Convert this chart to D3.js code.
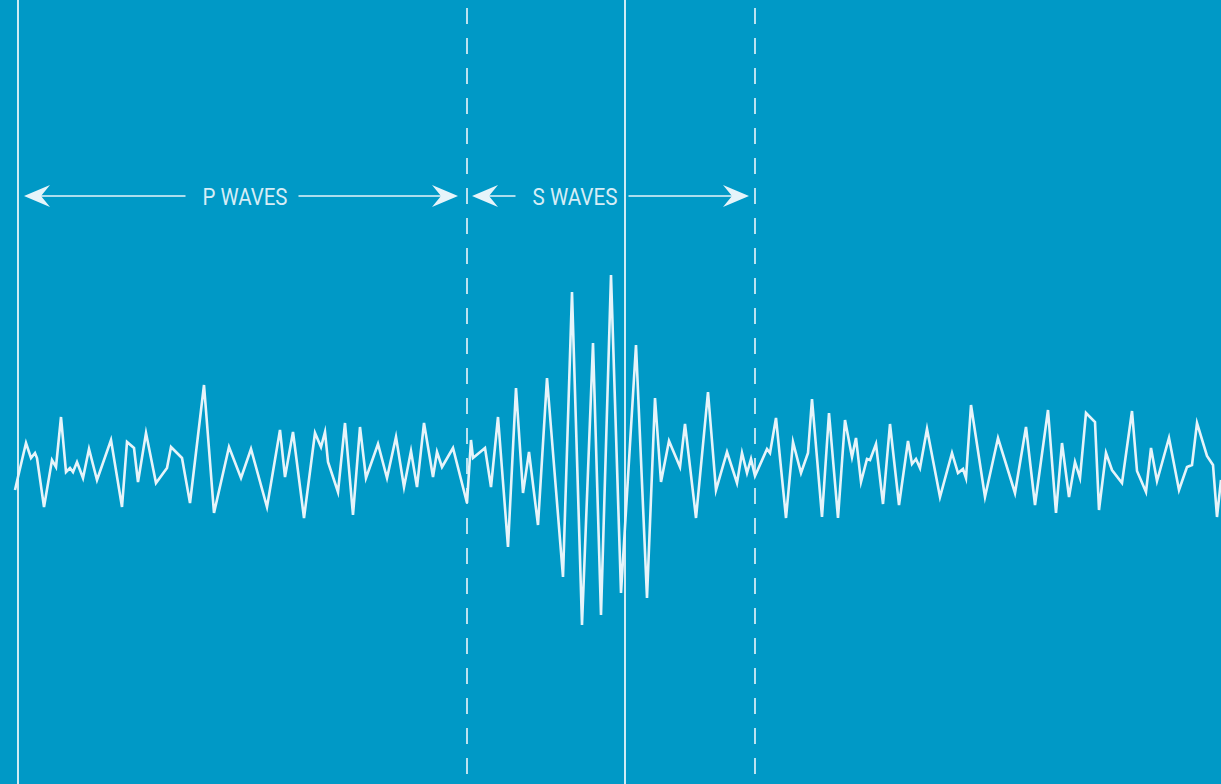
<!DOCTYPE html>
<html>
<head>
<meta charset="utf-8">
<script src="https://cdn.jsdelivr.net/npm/d3@7"></script>
<style>
  html, body { margin: 0; padding: 0; background: #0099c6; overflow: hidden; }
  svg { display: block; }
</style>
</head>
<body>
<svg id="chart"></svg>
<script>
// ── seismogram trace: sample time and amplitude (arbitrary units) ──
const times = [
  15, 18, 26, 31, 35, 37, 44, 52, 56, 61, 66, 70, 73, 77, 83, 89, 97, 111, 122, 127,
  134, 138, 146, 156, 167, 171, 182, 190, 204, 214, 229, 241, 251, 267, 280, 285, 293, 304, 315, 321,
  325, 328, 338, 345, 353, 360, 366, 378, 387, 396, 404, 411, 417, 424, 433, 437, 442, 453, 467, 471,
  473, 485, 491, 498, 508, 516, 523, 529, 538, 547, 563, 572, 582, 593, 601, 611, 621, 636, 647, 655,
  661, 669, 680, 685, 696, 708, 716, 727, 737, 742, 747, 751, 755, 767, 770, 776, 786, 793, 801, 808,
  812, 822, 829, 838, 845, 852, 856, 861, 867, 870, 876, 883, 890, 899, 908, 912, 916, 920, 927, 940,
  952, 958, 963, 966, 971, 985, 998, 1015, 1026, 1035, 1048, 1056, 1062, 1069, 1075, 1080, 1086, 1095, 1099, 1106,
  1112, 1122, 1132, 1137, 1146, 1151, 1157, 1169, 1179, 1187, 1192, 1197, 1207, 1213, 1217, 1221
];
const amplitudes = [
  -25, -12, 22, 7, 12, 7, -42, 5, -2, 48, -7, -3, -7, 3, -13, 16, -15, 25, -42, 23,
  17, -17, 32, -18, -3, 18, 7, -38, 80, -48, 18, -13, 16, -42, 35, -12, 33, -53, 32, 18,
  33, 3, -27, 42, -50, 38, -13, 21, -13, 28, -22, 14, -22, 42, -12, 13, -2, 17, -38, 25,
  7, 17, -22, 48, -82, 77, -28, 13, -60, 87, -112, 173, -160, 122, -150, 190, -128, 120, -133, 67,
  -17, 24, -2, 41, -53, 73, -25, 13, -18, 12, -8, 6, -11, 16, 12, 47, -53, 23, -8, 12,
  66, -52, 52, -53, 45, 8, 27, -17, 6, 5, 21, -39, 41, -40, 24, 1, 6, -3, 36, -32,
  12, -8, -4, -13, 60, -32, 27, -28, 38, -40, 55, -48, 22, -32, 3, -13, 52, 43, -45, 12,
  -5, -18, 54, -6, -27, 17, -16, 27, -25, -2, 0, 42, 9, 0, -52, -15
];

// vertical reference lines
const solidMarkers  = [18, 625];
const dashedMarkers = [467, 755];

// phase brackets
const phaseLabels = ["P WAVES", "S WAVES"];
const phaseFrom   = [18, 467];
const phaseTo     = [467, 755];
const labelAt     = [245, 575];

const W = 1221, H = 784;
const BG = "#0099c6";
const INK = "#e6f4fa";

const svg = d3.select("#chart").attr("width", W).attr("height", H);
svg.append("rect").attr("width", W).attr("height", H).attr("fill", BG);

const x = d3.scaleLinear().domain([0, 1221]).range([0, W]);
const y = d3.scaleLinear().domain([-160, 190]).range([625, 275]);

// ─── markers ───
svg.selectAll("line.solid").data(solidMarkers).join("line")
  .attr("class", "solid")
  .attr("x1", d => x(d)).attr("x2", d => x(d))
  .attr("y1", 0).attr("y2", H)
  .attr("stroke", INK).attr("stroke-width", 1.8);

svg.selectAll("line.dashed").data(dashedMarkers).join("line")
  .attr("class", "dashed")
  .attr("x1", d => x(d)).attr("x2", d => x(d))
  .attr("y1", 8).attr("y2", H)
  .attr("stroke", INK).attr("stroke-width", 1.8)
  .attr("stroke-dasharray", "16,14")
  .attr("opacity", 0.9);

// ─── trace ───
const pts = times.map((t, i) => [t, amplitudes[i]]);
svg.append("path")
  .datum(pts)
  .attr("fill", "none")
  .attr("stroke", INK)
  .attr("stroke-width", 2.6)
  .attr("stroke-linejoin", "miter")
  .attr("stroke-miterlimit", 6)
  .attr("d", d3.line().x(d => x(d[0])).y(d => y(d[1])));

// ─── phase arrows ───
const ARROW_Y = 196;
const head = "M0,0 L26,-11 L17,0 L26,11 Z";
const textW = 85, pad = [17, 11];

phaseLabels.forEach((lab, i) => {
  const left  = x(phaseFrom[i]) + (i === 0 ? 6 : 5);
  const right = x(phaseTo[i]) - (i === 0 ? 9 : 6);
  const cx = x(labelAt[i]);
  const g = svg.append("g");

  g.append("line")
    .attr("x1", left + 10).attr("x2", cx - textW / 2 - pad[0])
    .attr("y1", ARROW_Y).attr("y2", ARROW_Y)
    .attr("stroke", INK).attr("stroke-width", 1.5);
  g.append("line")
    .attr("x1", cx + textW / 2 + pad[1]).attr("x2", right - 10)
    .attr("y1", ARROW_Y).attr("y2", ARROW_Y)
    .attr("stroke", INK).attr("stroke-width", 1.5);

  g.append("path").attr("d", head)
    .attr("transform", `translate(${left},${ARROW_Y})`)
    .attr("fill", INK);
  g.append("path").attr("d", head)
    .attr("transform", `translate(${right},${ARROW_Y}) scale(-1,1)`)
    .attr("fill", INK);

  g.append("text")
    .attr("x", cx).attr("y", ARROW_Y + 9)
    .attr("text-anchor", "middle")
    .attr("font-family", "Roboto, 'Liberation Sans', sans-serif")
    .attr("font-size", 23)
    .attr("textLength", textW).attr("lengthAdjust", "spacingAndGlyphs")
    .attr("fill", "#d6edf6")
    .text(lab);
});
</script>
</body>
</html>
